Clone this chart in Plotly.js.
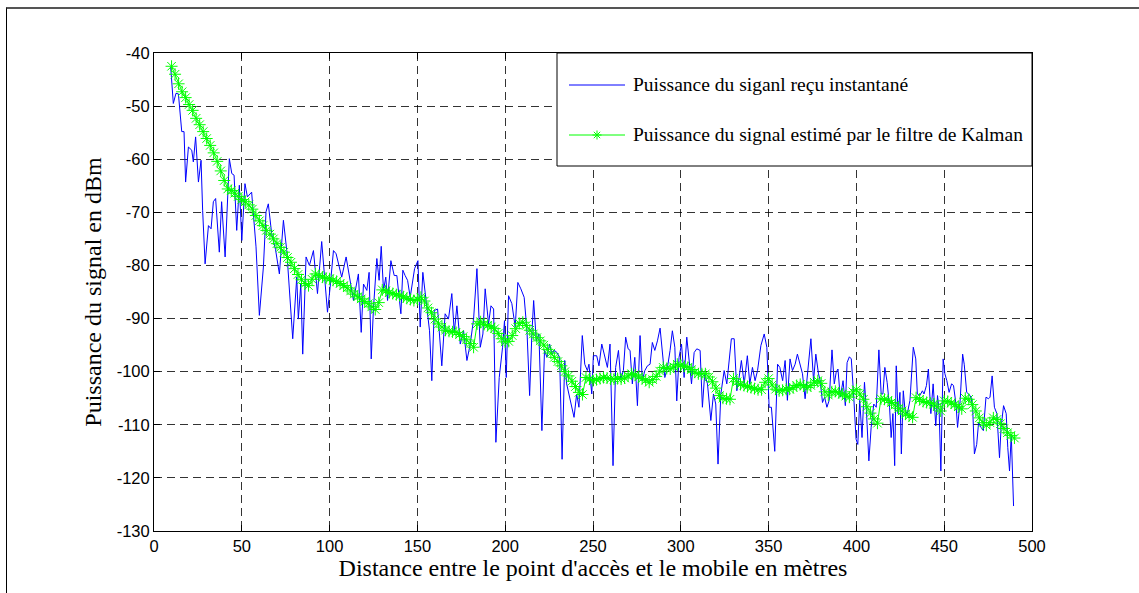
<!DOCTYPE html>
<html>
<head>
<meta charset="utf-8">
<script src="https://cdn.plot.ly/plotly-3.0.1.min.js"></script>
<style>
  html, body { margin: 0; padding: 0; background: #fff; }
  #wrap { position: relative; width: 1139px; height: 593px; overflow: hidden; }
  #chart { position: absolute; left: 0; top: 0; width: 1139px; height: 593px; }
  #frame { position: absolute; left: 6px; top: 7px; width: 1200px; height: 700px;
           border-left: 1.5px solid #000; border-top: 2px solid #555; pointer-events: none; }
</style>
</head>
<body>
<div id="wrap"><div id="chart"></div><div id="frame"></div></div>
<script>
// ---- Data ----
const blueX = [9.5,11.0,12.5,13.9,15.8,17.1,18.0,19.6,21.5,22.4,23.7,25.3,26.8,27.7,29.1,31.0,32.5,33.8,35.1,37.2,38.5,40.5,42.9,44.3,45.6,47.1,48.6,50.0,51.8,53.2,55.6,58.1,60.0,62.3,63.8,65.1,67.0,69.2,71.4,73.7,75.6,77.1,79.0,81.3,82.2,83.6,84.7,86.6,88.5,90.8,93.1,95.5,98.8,100.3,102.2,103.7,106.9,109.4,111.7,113.6,116.4,118.0,119.3,121.2,122.5,123.7,125.0,126.9,128.2,129.4,130.7,132.0,133.0,134.9,136.8,138.3,140.6,141.7,143.0,144.4,145.9,148.4,150.3,151.6,153.1,155.0,156.9,158.2,159.6,161.5,163.9,165.8,167.7,169.6,171.0,172.5,174.4,176.3,178.2,180.1,182.0,183.9,185.8,187.3,188.6,190.5,191.9,193.4,194.7,196.6,198.5,199.6,200.6,201.9,203.8,205.7,207.2,208.9,210.8,212.4,213.9,215.2,216.2,217.7,219.2,220.9,222.4,223.8,225.3,226.6,228.0,229.5,231.0,232.4,233.9,235.0,236.3,237.9,239.2,240.7,242.0,243.9,245.3,246.8,247.7,249.3,250.2,252.1,253.4,255.0,256.3,258.2,259.7,261.4,262.9,264.5,265.8,267.3,268.6,270.0,271.1,272.4,273.8,275.3,276.8,278.1,279.5,281.0,282.5,283.8,285.2,286.7,288.2,289.5,290.9,292.4,293.9,295.2,296.6,297.7,299.0,300.4,301.9,303.4,304.7,306.1,307.6,309.1,311.0,312.3,313.6,315.2,317.1,318.6,319.9,321.2,322.8,324.7,326.2,327.5,328.8,330.4,331.9,333.2,334.5,336.1,337.9,339.3,340.8,342.3,343.7,345.6,347.5,349.0,350.3,351.6,353.5,355.1,356.4,358.0,359.4,360.7,362.2,363.6,365.1,366.4,368.0,369.3,370.8,372.3,374.1,375.6,376.9,378.4,379.4,380.7,381.9,383.2,384.5,386.1,387.4,388.5,389.5,390.8,392.4,393.7,394.7,396.0,397.1,398.5,399.8,400.8,401.9,403.2,404.6,405.7,407.1,408.4,409.9,411.3,412.8,414.1,415.1,416.2,417.5,418.9,419.8,420.8,421.8,422.7,423.7,424.8,425.6,426.7,427.7,429.0,430.5,432.4,433.8,434.7,436.1,437.6,438.5,439.9,441.0,442.4,443.7,445.2,446.2,447.1,448.1,449.4,450.4,451.5,452.8,454.2,455.3,456.7,457.6,459.1,460.5,461.4,462.8,463.9,465.3,466.2,467.2,468.5,469.6,471.0,472.3,473.8,475.2,476.1,477.3,478.6,480.0,481.5,482.4,483.8,485.3,486.2,487.2,488.2,489.5];
const blueY = [-42.6,-49.5,-47.6,-47.7,-54.8,-54.8,-64.3,-57.7,-58.3,-60.5,-55.8,-64.3,-60.2,-69.6,-79.7,-72.5,-73.1,-68.0,-67.4,-77.5,-68.0,-78.4,-59.9,-62.7,-63.0,-73.4,-64.9,-75.3,-64.6,-67.1,-66.2,-76.5,-89.4,-80.3,-69.9,-68.4,-74.0,-77.0,-81.6,-71.5,-77.2,-84.1,-93.8,-82.2,-90.1,-83.5,-96.7,-78.4,-80.0,-77.2,-85.3,-75.5,-88.8,-84.1,-77.2,-77.8,-82.2,-78.4,-82.8,-86.6,-81.6,-92.6,-83.5,-84.7,-81.3,-97.6,-87.9,-78.7,-82.8,-76.4,-84.7,-82.2,-86.6,-79.1,-81.9,-81.9,-89.1,-80.9,-81.9,-82.8,-86.0,-80.6,-79.1,-91.6,-81.3,-86.6,-92.3,-101.7,-88.5,-88.2,-98.9,-89.1,-90.1,-85.3,-92.6,-87.6,-94.8,-92.3,-97.9,-94.8,-90.1,-80.6,-95.4,-92.9,-84.4,-91.0,-87.6,-88.2,-113.3,-101.1,-95.4,-90.4,-101.1,-85.7,-87.2,-91.6,-83.2,-84.4,-86.0,-92.3,-104.5,-92.9,-86.6,-94.2,-92.9,-111.1,-96.0,-97.3,-94.8,-96.7,-96.0,-96.4,-97.3,-116.5,-97.9,-102.3,-104.2,-106.1,-108.6,-104.2,-106.7,-93.2,-98.6,-99.8,-98.6,-104.2,-97.0,-97.0,-98.9,-94.8,-96.7,-99.2,-94.8,-117.7,-99.2,-96.0,-101.4,-99.8,-93.5,-95.7,-96.0,-102.3,-97.3,-106.4,-93.2,-101.7,-99.8,-98.9,-98.6,-94.5,-96.0,-94.2,-91.8,-96.0,-101.1,-99.2,-96.0,-92.3,-95.4,-105.5,-97.3,-94.8,-101.1,-93.5,-97.9,-102.3,-96.4,-95.7,-96.0,-106.7,-100.4,-102.3,-109.2,-104.2,-106.1,-117.4,-104.2,-99.8,-102.3,-98.6,-93.8,-93.8,-103.6,-101.1,-97.9,-102.3,-97.0,-102.3,-99.2,-101.7,-99.8,-95.1,-92.9,-95.4,-106.7,-106.7,-115.0,-98.6,-99.2,-101.7,-97.9,-105.4,-97.6,-99.8,-98.6,-96.7,-98.6,-100.4,-105.1,-99.2,-93.8,-101.7,-96.7,-100.4,-101.7,-105.8,-104.8,-106.7,-105.4,-95.9,-102.3,-100.1,-99.5,-104.8,-101.7,-106.4,-98.3,-97.2,-97.6,-104.8,-112.7,-113.7,-105.4,-112.4,-102.0,-107.3,-116.8,-110.5,-106.1,-106.7,-95.9,-104.2,-104.2,-99.2,-102.0,-106.7,-112.4,-107.9,-117.7,-98.9,-107.9,-103.9,-115.5,-103.6,-107.3,-107.9,-105.4,-95.4,-97.6,-104.2,-104.5,-103.6,-104.2,-102.6,-99.5,-107.9,-102.3,-110.2,-104.5,-107.3,-118.7,-97.6,-100.4,-101.7,-103.9,-102.3,-102.6,-106.1,-110.5,-105.4,-96.7,-98.6,-103.9,-104.2,-104.8,-106.7,-115.5,-113.7,-109.5,-110.5,-111.1,-104.8,-105.1,-104.8,-100.8,-106.7,-107.9,-116.2,-110.5,-106.4,-107.9,-114.3,-118.7,-111.8,-125.3];

const greenX = [10,12,14,16,18,20,22,24,26,28,30,32,34,36,38,40,42,44,46,48,50,52,54,56,58,60,62,64,66,68,70,72,74,76,78,80,82,84,86,88,90,92,94,96,98,100,102,104,106,108,110,112,114,116,118,120,122,124,126,128,130,132,134,136,138,140,142,144,146,148,150,152,154,156,158,160,162,164,166,168,170,172,174,176,178,180,182,184,186,188,190,192,194,196,198,200,202,204,206,208,210,212,214,216,218,220,222,224,226,228,230,232,234,236,238,240,242,244,246,248,250,252,254,256,258,260,262,264,266,268,270,272,274,276,278,280,282,284,286,288,290,292,294,296,298,300,302,304,306,308,310,312,314,316,318,320,322,324,326,328,330,332,334,336,338,340,342,344,346,348,350,352,354,356,358,360,362,364,366,368,370,372,374,376,378,380,382,384,386,388,390,392,394,396,398,400,402,404,406,408,410,412,414,416,418,420,422,424,426,428,430,432,434,436,438,440,442,444,446,448,450,452,454,456,458,460,462,464,466,468,470,472,474,476,478,480,482,484,486,488,490];
const greenY = [-42.5,-44.0,-45.8,-47.3,-48.4,-49.7,-50.8,-52.3,-53.5,-54.8,-56.1,-57.4,-58.8,-60.4,-62.2,-64.0,-65.6,-65.9,-66.4,-67.0,-67.6,-68.0,-68.6,-69.4,-70.6,-71.6,-72.5,-73.4,-74.1,-75.0,-75.9,-76.6,-77.5,-78.5,-79.4,-80.6,-81.7,-82.7,-83.4,-83.8,-82.6,-81.6,-81.9,-82.2,-82.4,-82.5,-82.8,-83.0,-83.4,-83.8,-84.2,-84.8,-85.4,-85.9,-86.3,-86.8,-87.2,-87.8,-88.3,-87.0,-84.6,-84.8,-85.1,-85.3,-85.5,-85.7,-85.9,-86.2,-86.4,-86.6,-86.4,-86.0,-86.7,-88.0,-88.9,-90.1,-91.0,-91.6,-92.2,-92.4,-92.5,-92.6,-93.0,-93.4,-94.0,-94.7,-95.4,-91.0,-90.6,-91.1,-91.3,-91.6,-91.9,-92.8,-93.8,-94.4,-94.3,-93.2,-91.9,-90.9,-90.7,-91.3,-92.2,-92.9,-93.6,-94.2,-95.0,-95.8,-96.5,-97.3,-98.1,-98.9,-100.0,-100.8,-101.8,-102.8,-103.9,-104.3,-101.1,-101.4,-101.7,-101.5,-101.3,-101.1,-101.2,-101.4,-101.4,-101.3,-101.4,-101.2,-100.8,-100.4,-100.6,-101.0,-101.3,-101.6,-102.0,-101.5,-100.9,-99.9,-99.2,-99.4,-99.5,-99.1,-98.6,-98.8,-99.0,-99.2,-99.6,-100.1,-100.4,-100.4,-100.4,-101.0,-101.9,-103.1,-104.5,-105.0,-105.1,-105.2,-101.3,-101.9,-102.4,-102.6,-102.8,-103.0,-103.2,-103.4,-103.4,-102.0,-101.3,-102.5,-103.3,-103.6,-103.5,-103.3,-103.3,-103.0,-102.6,-102.4,-102.7,-103.0,-102.6,-102.0,-101.7,-102.2,-103.8,-104.4,-103.8,-103.7,-104.0,-104.2,-104.6,-104.8,-103.8,-103.4,-104.2,-105.2,-106.6,-107.8,-108.9,-109.7,-105.1,-105.2,-105.4,-105.8,-106.3,-106.9,-107.4,-108.0,-108.3,-108.6,-104.9,-105.2,-105.6,-105.8,-105.9,-106.1,-106.6,-107.4,-105.5,-105.6,-105.9,-106.2,-106.6,-107.0,-105.0,-105.2,-106.2,-107.4,-108.7,-109.6,-110.1,-109.6,-108.7,-109.0,-109.8,-110.7,-111.5,-112.0,-112.5];

const xTicks = [0,50,100,150,200,250,300,350,400,450,500];
const yTicks = [-130,-120,-110,-100,-90,-80,-70,-60,-50,-40];
const seriesNames = ['Puissance du siganl reçu instantané',
                     'Puissance du signal estimé par le filtre de Kalman'];
const xTitle = "Distance entre le point d'accès et le mobile en mètres";
const yTitle = 'Puissance du signal en dBm';

// ---- Layout constants ----
const L = 154, R = 1032, T = 53, B = 531, W = 1139, H = 593;
const pw = R - L, ph = B - T;
const px = v => (v - L) / pw;          // pixel -> paper x
const py = v => (B - v) / ph;          // pixel -> paper y

const BLUE = '#0000ff', GREEN = '#00ff00';
const tickFont = {family: 'Liberation Sans, Arial, sans-serif', size: 16.5, color: '#000'};
const titleFont = {family: 'Liberation Serif, Times New Roman, serif', size: 24, color: '#000'};
const legFont = {family: 'Liberation Serif, Times New Roman, serif', size: 19.5, color: '#000'};

const gridStyle = {showgrid: true, gridcolor: 'rgba(0,0,0,0.8)', gridwidth: 1, griddash: '8px,5px'};

const traces = [
  {x: blueX, y: blueY, type: 'scatter', mode: 'lines', name: seriesNames[0],
   line: {color: BLUE, width: 1}, showlegend: false, hoverinfo: 'skip'},
  {x: greenX, y: greenY, type: 'scatter', mode: 'lines+markers', name: seriesNames[1],
   line: {color: GREEN, width: 1},
   marker: {symbol: 'asterisk-open', size: 10, color: GREEN, line: {color: GREEN, width: 1}},
   showlegend: false, hoverinfo: 'skip'}
];

const ast = 'M-4.5,0L4.5,0M0,-4.5L0,4.5M-3.2,-3.2L3.2,3.2M-3.2,3.2L3.2,-3.2';

const layout = {
  width: W, height: H,
  margin: {l: L, r: W - R, t: T, b: H - B, pad: 0},
  paper_bgcolor: 'rgba(0,0,0,0)', plot_bgcolor: '#fff',
  showlegend: false,
  xaxis: Object.assign({
    range: [0, 500], tickvals: xTicks, ticktext: xTicks.map(String),
    showline: true, linecolor: '#000', linewidth: 1, mirror: 'ticks',
    ticks: 'inside', ticklen: 6, tickcolor: '#000', tickfont: tickFont,
    zeroline: false, fixedrange: true,
    title: {text: xTitle, font: titleFont, standoff: 5}
  }, gridStyle),
  yaxis: Object.assign({
    range: [-130, -40], tickvals: yTicks, ticktext: yTicks.map(String),
    showline: true, linecolor: '#000', linewidth: 1, mirror: 'ticks',
    ticks: 'inside', ticklen: 6, tickcolor: '#000', tickfont: tickFont,
    zeroline: false, fixedrange: true,
    title: {text: yTitle, font: titleFont, standoff: 8}
  }, gridStyle),
  shapes: [
    {type: 'rect', xref: 'paper', yref: 'paper', x0: px(557), x1: 1, y0: py(166), y1: 1,
     fillcolor: '#fff', line: {color: '#000', width: 1}, layer: 'above'},
    {type: 'line', xref: 'paper', yref: 'paper', x0: px(569), x1: px(625), y0: py(85), y1: py(85),
     line: {color: BLUE, width: 1}, layer: 'above'},
    {type: 'line', xref: 'paper', yref: 'paper', x0: px(569), x1: px(625), y0: py(135), y1: py(135),
     line: {color: GREEN, width: 1}, layer: 'above'},
    {type: 'path', xref: 'paper', yref: 'paper', xsizemode: 'pixel', ysizemode: 'pixel',
     xanchor: px(597), yanchor: py(135), path: ast,
     line: {color: GREEN, width: 1}, layer: 'above'}
  ],
  annotations: [
    {xref: 'paper', yref: 'paper', x: px(631), y: py(85), xanchor: 'left', yanchor: 'middle',
     text: seriesNames[0], showarrow: false, font: legFont},
    {xref: 'paper', yref: 'paper', x: px(631), y: py(135), xanchor: 'left', yanchor: 'middle',
     text: seriesNames[1], showarrow: false, font: legFont}
  ]
};

Plotly.newPlot('chart', traces, layout, {displayModeBar: false, staticPlot: true});
</script>
</body>
</html>
